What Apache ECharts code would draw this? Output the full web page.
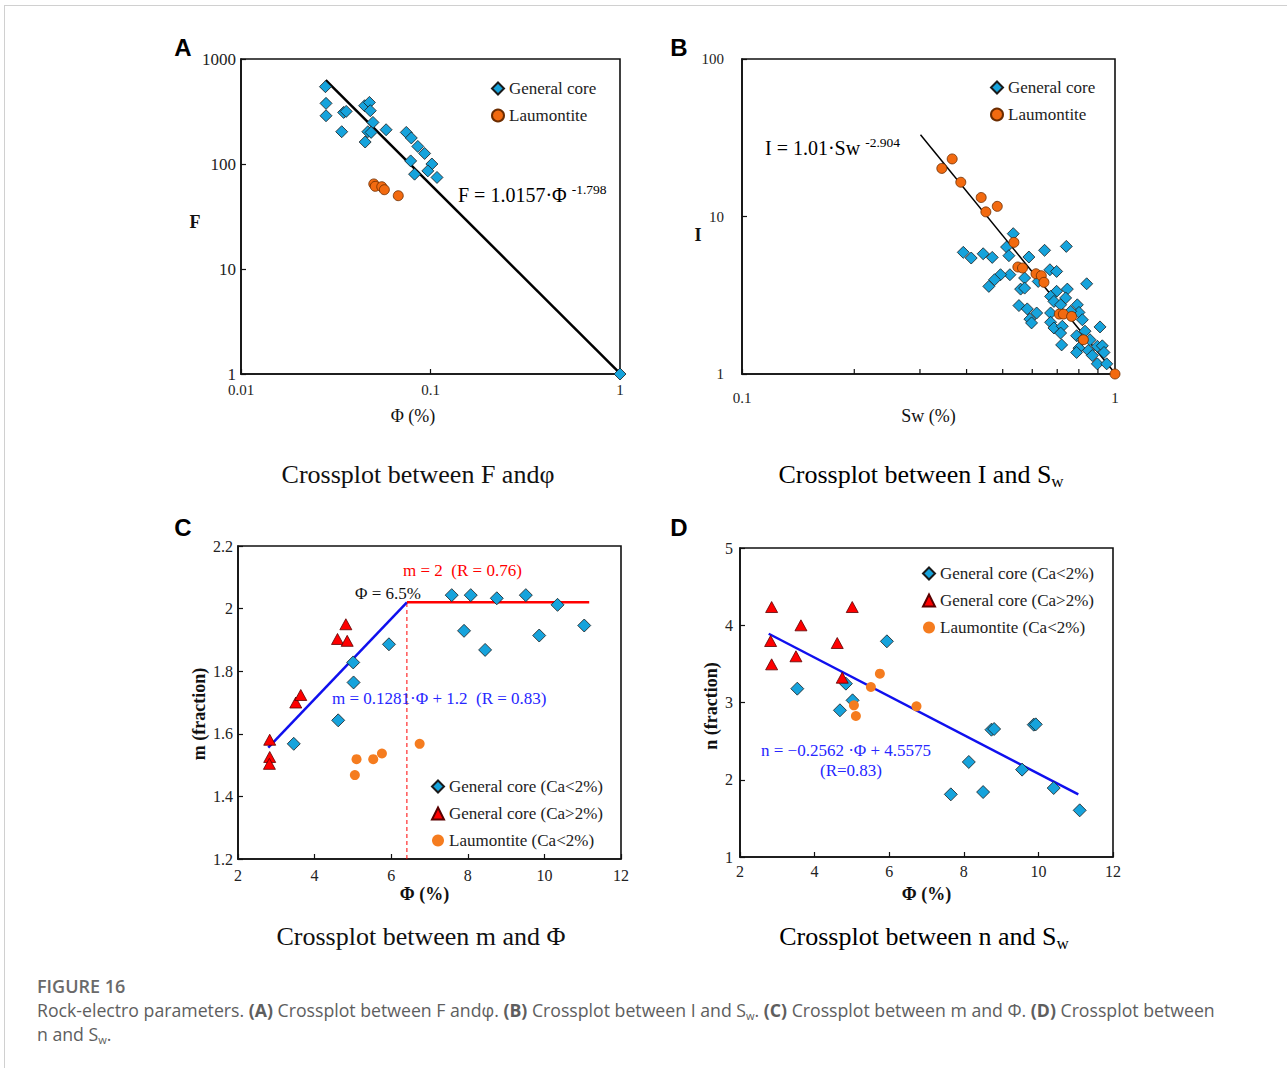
<!DOCTYPE html>
<html>
<head>
<meta charset="utf-8">
<script src="https://cdn.jsdelivr.net/npm/echarts@6/dist/echarts.min.js"></script>
<style>
html,body{margin:0;padding:0;background:#fff;}
#page{position:relative;width:1287px;height:1068px;overflow:hidden;background:#fff;}
#frame{position:absolute;left:4px;top:5px;width:1290px;height:1070px;border-top:1px solid #d0d0d0;border-left:1px solid #d0d0d0;}
#chart{position:absolute;left:0;top:0;width:1287px;height:960px;}
#cap{position:absolute;left:37px;top:974px;width:1240px;font-family:"Open Sans",sans-serif;color:#5e5e5e;}
#cap .fig{font-size:18px;font-weight:600;color:#6a6a6a;line-height:24px;}
#cap .txt{font-size:17.7px;line-height:24px;white-space:nowrap;}
#cap b{font-weight:700;}
#cap sub{font-size:11px;vertical-align:-3px;line-height:0;}
</style>
</head>
<body>
<div id="page">
  <div id="frame"></div>
  <div id="chart"></div>
  <div id="cap">
    <div class="fig">FIGURE 16</div>
    <div class="txt">Rock-electro parameters. <b>(A)</b> Crossplot between F andφ. <b>(B)</b> Crossplot between I and S<sub>w</sub>. <b>(C)</b> Crossplot between m and Φ. <b>(D)</b> Crossplot between<br>n and S<sub>w</sub>.</div>
  </div>
</div>
<script>
// ---------- Panel A: F vs porosity (log-log) ----------
const aGeneral = [
  [0.0279,545],[0.0281,378],[0.0281,288],[0.0340,203],[0.0348,310],[0.0359,317],
  [0.0449,359],[0.0476,386],[0.0481,322],[0.0497,249],[0.0467,203],[0.0486,200],
  [0.0452,162],[0.0583,212],[0.0745,200],[0.0792,177],[0.0857,147],[0.0931,126],
  [0.0786,107],[0.0824,80],[0.1017,100],[0.0968,86],[0.1082,74.5],[1.0,1.0]
];
const aLaumontite = [[0.0502,64.6],[0.0511,61.3],[0.0553,60.8],[0.0571,56.9],[0.0676,49.9]];
const aFit = [[0.028,630],[1.0,1.0157]];
const aXTicks = ['0.01','0.1','1'];
const aYTicks = ['1','10','100','1000'];

// ---------- Panel B: I vs Sw (log-log) ----------
const bGeneral = [
  [0.5336,7.78],[0.512,6.40],[0.5195,5.64],[0.392,5.92],[0.4116,5.45],[0.4432,5.80],
  [0.4687,5.50],[0.5877,5.53],[0.6474,6.10],[0.7404,6.46],[0.6691,4.59],[0.6974,4.48],
  [0.5724,4.07],[0.5227,4.27],[0.4933,4.27],[0.4754,3.97],[0.4590,3.60],[0.5584,3.46],
  [0.5724,3.51],[0.6225,3.87],[0.8396,3.74],[0.7451,3.46],[0.6974,3.35],[0.672,3.11],
  [0.686,2.89],[0.7373,3.04],[0.7148,2.75],[0.5527,2.72],[0.5818,2.59],[0.6166,2.44],
  [0.5914,2.23],[0.5975,2.11],[0.672,2.44],[0.672,2.13],[0.686,1.96],[0.7223,2.01],
  [0.7148,1.82],[0.7925,2.75],[0.8006,2.46],[0.8175,2.21],[0.7604,2.50],[0.9117,1.99],
  [0.8309,1.87],[0.789,1.75],[0.7193,1.53],[0.8175,1.65],[0.857,1.65],[0.8006,1.46],
  [0.789,1.37],[0.848,1.41],[0.8967,1.50],[0.9247,1.51],[0.9343,1.37],[0.8967,1.16],
  [0.950,1.16],[0.8694,1.31]
];
const bLaumontite = [
  [0.3433,20.2],[0.366,23.2],[0.386,16.5],[0.4378,13.2],[0.4506,10.7],[0.4835,11.6],
  [0.5358,6.85],[0.549,4.78],[0.565,4.71],[0.614,4.33],[0.6345,4.21],[0.645,3.82],
  [0.709,2.40],[0.727,2.40],[0.765,2.32],[0.8227,1.65],[1.0,1.0]
];
const bFit = [[0.301,33.0],[1.0,1.01]];
const bMinorTicks = [0.2,0.3,0.4,0.5,0.6,0.7,0.8,0.9];
const bXTicks = ['0.1','1'];
const bYTicks = ['1','10','100'];

// ---------- Panel C: m vs porosity ----------
const cGeneralLow = [
  [3.456,1.568],[4.616,1.643],[5.008,1.828],[5.017,1.764],[5.941,1.886],[7.58,2.043],
  [8.077,2.043],[8.757,2.033],[9.515,2.043],[10.343,2.012],[11.04,1.946],[7.902,1.929],
  [8.452,1.868],[9.864,1.914]
];
const cGeneralHigh = [
  [2.828,1.581],[2.828,1.526],[2.82,1.504],[3.508,1.70],[3.639,1.724],[4.598,1.903],
  [4.851,1.897],[4.816,1.950]
];
const cLaumontite = [[5.095,1.519],[5.051,1.468],[5.531,1.519],[5.758,1.537],[6.743,1.568]];
const cFitLinear = [[2.79,1.556],[6.41,2.020]];
const cFitFlat = [[6.41,2.020],[11.17,2.020]];
const cBreak = [[6.41,1.2],[6.41,2.020]];
const cXTicks = ['2','4','6','8','10','12'];
const cYTicks = ['1.2','1.4','1.6','1.8','2','2.2'];

// ---------- Panel D: n vs porosity ----------
const dGeneralLow = [
  [3.536,3.179],[4.679,2.899],[4.839,3.244],[5.018,3.028],[5.938,3.792],[7.652,1.811],
  [8.134,2.230],[8.518,1.841],[8.741,2.648],[8.813,2.657],[9.563,2.131],[9.875,2.713],
  [9.929,2.717],[10.41,1.893],[11.107,1.604]
];
const dGeneralHigh = [
  [2.848,4.236],[2.821,3.796],[2.848,3.494],[3.634,3.999],[3.5,3.598],[5.009,4.236],
  [4.607,3.770],[4.741,3.321]
];
const dLaumontite = [[5.054,2.963],[5.107,2.825],[5.509,3.201],[5.75,3.373],[6.732,2.950]];
const dFit = [[2.77,3.89],[11.07,1.81]];
const dXTicks = ['2','4','6','8','10','12'];
const dYTicks = ['1','2','3','4','5'];

// ---------- styling ----------
const SERIF = '"Liberation Serif","Times New Roman",serif';
const SANS = '"Liberation Sans",Arial,sans-serif';
const BLUE = '#16a3dc';
const ORANGE = '#f26a10';
const ORANGE2 = '#f57c1f';
const RED = '#ff0000';
const EQBLUE = '#2626ff';

function axisBase(grid, extra) {
  return Object.assign({
    gridIndex: grid,
    axisLine: {show: true, lineStyle: {color: '#111', width: 1.6}},
    axisTick: {show: true, inside: true, length: 5, lineStyle: {color: '#111', width: 1.2}},
    splitLine: {show: false},
    axisLabel: {fontFamily: SERIF, fontSize: 16, color: '#222'},
    nameTextStyle: {fontFamily: SERIF, fontSize: 18, color: '#111'}
  }, extra);
}
function fromList(list) {
  return function (v) {
    const s = String(+v.toPrecision(6));
    return list.indexOf(s) >= 0 ? s : '';
  };
}

const grids = [
  {left: 241, top: 59, width: 379, height: 315},
  {left: 742, top: 59, width: 373, height: 315},
  {left: 238, top: 546, width: 383, height: 313},
  {left: 740, top: 548, width: 373, height: 309}
].map(g => Object.assign(g, {show: true, borderColor: '#111', borderWidth: 1.6, containLabel: false}));

const xAxes = [
  axisBase(0, {type: 'log', logBase: 10, min: 0.01, max: 1,
    axisLabel: {fontFamily: SERIF, fontSize: 15, color: '#222', margin: 8, formatter: fromList(aXTicks)}}),
  axisBase(1, {type: 'log', logBase: 10, min: 0.1, max: 1, name: 'Sw (%)', nameLocation: 'middle', nameGap: 33,
    axisLabel: {fontFamily: SERIF, fontSize: 15, color: '#222', margin: 16, formatter: fromList(bXTicks)}}),
  axisBase(2, {type: 'value', min: 2, max: 12, interval: 2, name: 'Φ (%)', nameLocation: 'middle', nameGap: 26,
    nameTextStyle: {fontFamily: SERIF, fontSize: 18, fontWeight: 'bold', color: '#111', padding: [0, 10, 0, 0]},
    axisLabel: {fontFamily: SERIF, fontSize: 16, color: '#222', margin: 8, formatter: fromList(cXTicks)}}),
  axisBase(3, {type: 'value', min: 2, max: 12, interval: 2, name: 'Φ (%)', nameLocation: 'middle', nameGap: 28,
    nameTextStyle: {fontFamily: SERIF, fontSize: 18, fontWeight: 'bold', color: '#111'},
    axisLabel: {fontFamily: SERIF, fontSize: 16, color: '#222', margin: 6, formatter: fromList(dXTicks)}})
];
const yAxes = [
  axisBase(0, {type: 'log', logBase: 10, min: 1, max: 1000,
    axisLabel: {fontFamily: SERIF, fontSize: 17, color: '#222', margin: 5, formatter: fromList(aYTicks)}}),
  axisBase(1, {type: 'log', logBase: 10, min: 1, max: 100,
    axisLabel: {fontFamily: SERIF, fontSize: 15, color: '#222', margin: 18, formatter: fromList(bYTicks)}}),
  axisBase(2, {type: 'value', min: 1.2, max: 2.2, interval: 0.2,
    axisLabel: {fontFamily: SERIF, fontSize: 16, color: '#222', margin: 5, formatter: fromList(cYTicks)}}),
  axisBase(3, {type: 'value', min: 1, max: 5, interval: 1,
    axisLabel: {fontFamily: SERIF, fontSize: 16, color: '#222', margin: 7, formatter: fromList(dYTicks)}})
];

function scatter(name, gi, data, symbol, size, color, border) {
  return {
    type: 'scatter', name: name, xAxisIndex: gi, yAxisIndex: gi, data: data,
    symbol: symbol, symbolSize: size, z: 4, silent: true,
    itemStyle: {color: color, borderColor: border || 'transparent', borderWidth: border ? 0.8 : 0, opacity: 1}
  };
}
function line(gi, data, color, width, type) {
  return {
    type: 'line', xAxisIndex: gi, yAxisIndex: gi, data: data, symbol: 'none', silent: true, z: 3,
    lineStyle: {color: color, width: width, type: type || 'solid'}
  };
}

const series = [
  line(0, aFit, '#000', 2.5),
  scatter('General core', 0, aGeneral, 'diamond', 12, BLUE, '#1a1a1a'),
  scatter('Laumontite', 0, aLaumontite, 'circle', 10, ORANGE, '#6b2c00'),

  line(1, bFit, '#000', 1.5),
  scatter('General core', 1, bGeneral, 'diamond', 12, BLUE, '#1a1a1a'),
  scatter('Laumontite', 1, bLaumontite, 'circle', 10, ORANGE, '#6b2c00'),
  {
    type: 'custom', xAxisIndex: 1, yAxisIndex: 1, silent: true, z: 5,
    data: bMinorTicks.map(v => [v, 1]),
    renderItem: function (params, api) {
      const p = api.coord([api.value(0), api.value(1)]);
      return {type: 'line', shape: {x1: p[0], y1: p[1], x2: p[0], y2: p[1] - 5},
              style: {stroke: '#111', lineWidth: 1.2}};
    }
  },

  line(2, cBreak, RED, 1, [4, 3]),
  line(2, cFitLinear, '#1010ee', 2.5),
  line(2, cFitFlat, RED, 2.5),
  scatter('General core (Ca<2%)', 2, cGeneralLow, 'diamond', 13, BLUE, '#1a1a1a'),
  scatter('General core (Ca>2%)', 2, cGeneralHigh, 'triangle', [12, 11], RED, '#5a0000'),
  scatter('Laumontite (Ca<2%)', 2, cLaumontite, 'circle', 10, ORANGE2),

  line(3, dFit, '#1010ee', 2.5),
  scatter('General core (Ca<2%)', 3, dGeneralLow, 'diamond', 13, BLUE, '#1a1a1a'),
  scatter('General core (Ca>2%)', 3, dGeneralHigh, 'triangle', [12, 11], RED, '#5a0000'),
  scatter('Laumontite (Ca<2%)', 3, dLaumontite, 'circle', 10, ORANGE2)
];

function legend(left, top, names) {
  return {
    orient: 'vertical', left: left, top: top, padding: 0, itemWidth: 12, itemHeight: 12, itemGap: 10,
    selectedMode: false, data: names,
    textStyle: {fontFamily: SERIF, fontSize: 17, color: '#222', lineHeight: 17}
  };
}
const legends = [
  legend(491, 80, ['General core', 'Laumontite']),
  legend(990, 79, ['General core', 'Laumontite']),
  legend(431, 778, ['General core (Ca<2%)', 'General core (Ca>2%)', 'Laumontite (Ca<2%)']),
  legend(922, 565, ['General core (Ca<2%)', 'General core (Ca>2%)', 'Laumontite (Ca<2%)'])
];

function txt(x, y, text, opts) {
  return {type: 'text', x: x, y: y, silent: true, z: 10,
    style: Object.assign({text: text, fontFamily: SERIF, fontSize: 17, fill: '#000',
      textAlign: 'left', textVerticalAlign: 'middle'}, opts || {})};
}
function rotTxt(x, y, text, opts) {
  const t = txt(x, y, text, Object.assign({textAlign: 'center'}, opts || {}));
  t.rotation = Math.PI / 2;
  return t;
}
function supText(x, y, main, sup, color) {
  return txt(x, y, '{m|' + main + '}{s|' + sup + '}', {
    rich: {
      m: {fontFamily: SERIF, fontSize: 20, color: color, lineHeight: 24, verticalAlign: 'bottom'},
      s: {fontFamily: SERIF, fontSize: 13.5, color: color, lineHeight: 16, verticalAlign: 'top', padding: [1, 0, 0, 0]}
    }
  });
}
function subTitle(x, y, main, sub) {
  return txt(x, y, '{m|' + main + '}{s|' + sub + '}', {
    textAlign: 'center',
    rich: {
      m: {fontFamily: SERIF, fontSize: 26, color: '#111', lineHeight: 32, verticalAlign: 'middle'},
      s: {fontFamily: SERIF, fontSize: 17, color: '#111', lineHeight: 17, verticalAlign: 'bottom'}
    }
  });
}
const BOLD18 = {fontWeight: 'bold', fontSize: 18, fill: '#111'};

const graphics = [
  txt(183, 47, 'A', {fontFamily: SANS, fontWeight: 'bold', fontSize: 24, textAlign: 'center'}),
  txt(679, 47, 'B', {fontFamily: SANS, fontWeight: 'bold', fontSize: 24, textAlign: 'center'}),
  txt(183, 527, 'C', {fontFamily: SANS, fontWeight: 'bold', fontSize: 24, textAlign: 'center'}),
  txt(679, 527, 'D', {fontFamily: SANS, fontWeight: 'bold', fontSize: 24, textAlign: 'center'}),

  // axis names placed as in the reference
  txt(195, 222, 'F', Object.assign({textAlign: 'center'}, BOLD18)),
  txt(413, 416, 'Φ (%)', {fontSize: 18, fill: '#111', textAlign: 'center'}),
  txt(698, 235, 'I', Object.assign({textAlign: 'center'}, BOLD18)),
  rotTxt(199, 714, 'm (fraction)', BOLD18),
  rotTxt(711, 706, 'n (fraction)', BOLD18),

  supText(458, 193, 'F = 1.0157·Φ ', '-1.798', EQBLUE),
  supText(765, 146, 'I = 1.01·Sw ', '-2.904', EQBLUE),

  txt(403, 570, 'm = 2  (R = 0.76)', {fill: RED}),
  txt(355, 593, 'Φ = 6.5%', {fill: '#111'}),
  txt(332, 698, 'm = 0.1281·Φ + 1.2  (R = 0.83)', {fill: EQBLUE}),
  txt(761, 750, 'n = −0.2562 ·Φ + 4.5575', {fill: EQBLUE}),
  txt(820, 770, '(R=0.83)', {fill: EQBLUE}),

  txt(418, 474, 'Crossplot between F andφ', {fontSize: 26, fill: '#111', textAlign: 'center'}),
  subTitle(921, 474, 'Crossplot between I and S', 'w'),
  txt(421, 936, 'Crossplot between m and Φ', {fontSize: 26, fill: '#111', textAlign: 'center'}),
  subTitle(924, 936, 'Crossplot between n and S', 'w')
];

const chart = echarts.init(document.getElementById('chart'), null, {renderer: 'svg'});
chart.setOption({
  animation: false,
  backgroundColor: 'transparent',
  grid: grids,
  xAxis: xAxes,
  yAxis: yAxes,
  legend: legends,
  series: series,
  graphic: graphics
});
</script>
</body>
</html>
